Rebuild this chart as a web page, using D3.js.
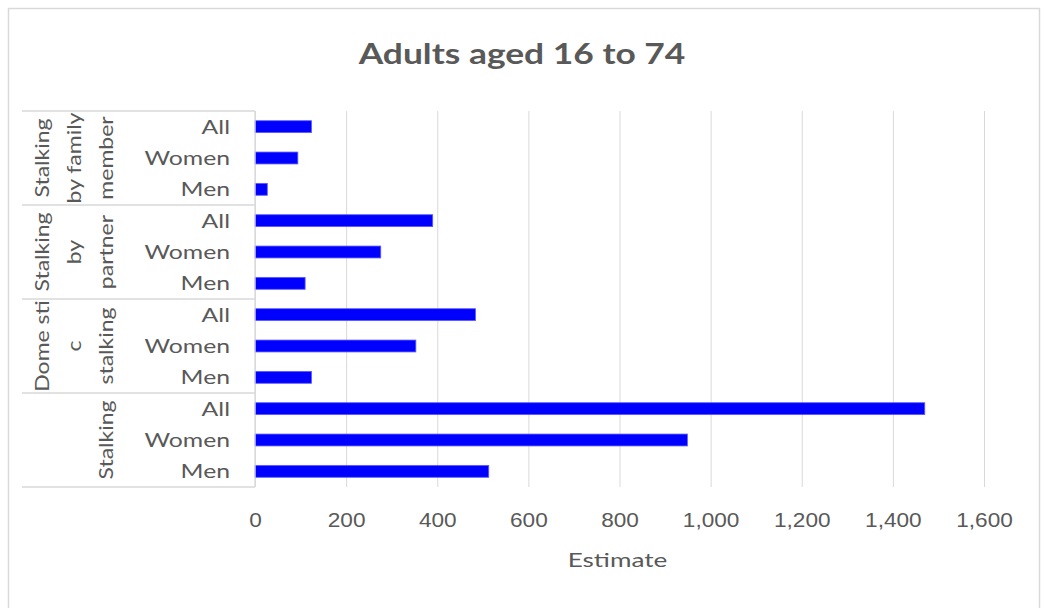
<!DOCTYPE html>
<html>
<head>
<meta charset="utf-8">
<script src="https://cdn.jsdelivr.net/npm/d3@7"></script>
<style>
html,body{margin:0;padding:0;background:#fff;}
svg{display:block;font-family:Lato,"Open Sans",sans-serif;}
</style>
</head>
<body>
<svg id="chart" width="1045" height="608"></svg>
<script>
// ---- data ----
const groups = ["Stalking by family member", "Stalking by partner", "Domestic stalking", "Stalking"];
const groupLines = [["Stalking", "by family", "member"], ["Stalking", "by", "partner"], ["Dome sti", "c", "stalking"], ["Stalking"]];
const subCategories = ["All", "Women", "Men"];
const familyValues = [124, 94, 27];
const partnerValues = [390, 276, 110];
const domesticValues = [484, 353, 124];
const stalkingValues = [1470, 949, 513];
const xTicks = [0, 200, 400, 600, 800, 1000, 1200, 1400, 1600];
const chartTitle = "Adults aged 16 to 74";
const xTitle = "Estimate";

const groupValues = [familyValues, partnerValues, domesticValues, stalkingValues];
const rows = [];
groups.forEach((g, gi) => subCategories.forEach((s, si) => rows.push({group: g, gi, sub: s, key: g + "|" + s, value: groupValues[gi][si]})));

// ---- layout ----
const svg = d3.select("#chart");
const textColor = "#595959";
const gridColor = "#d9d9d9";
const plot = {left: 255, right: 984, top: 111, bottom: 487};
const labelSize = 19.5;

// stretched text helper (text drawn at local origin, scaled along its own direction)
function stretchedText(parent, tx, ty, rot, sx, str, anchor, size, weight) {
  const g = parent.append("g").attr("transform", `translate(${tx},${ty}) rotate(${rot}) scale(${sx},1)`);
  return g.append("text").attr("x", 0).attr("y", 0).attr("text-anchor", anchor)
    .attr("font-size", size).attr("font-weight", weight || "normal").attr("fill", textColor).text(str);
}

svg.append("rect").attr("x", 0).attr("y", 0).attr("width", 1045).attr("height", 608).attr("fill", "#fff");
svg.append("rect").attr("x", 8.5).attr("y", 8.5).attr("width", 1031).attr("height", 640)
  .attr("fill", "none").attr("stroke", gridColor).attr("stroke-width", 1.5);

const x = d3.scaleLinear().domain([0, 1600]).range([plot.left, plot.right]);
const y = d3.scaleBand().domain(rows.map(d => d.key)).range([plot.top, plot.bottom]).paddingInner(0.62).paddingOuter(0.31);
const step = y.step();

// title
stretchedText(svg, 522, 63.5, 0, 1.22, chartTitle, "middle", 29, "bold");

// gridlines
const grid = svg.append("g").attr("transform", `translate(0,${plot.bottom})`)
  .call(d3.axisBottom(x).tickValues(xTicks).tickSize(-(plot.bottom - plot.top)).tickFormat(d3.format(",")));
grid.select(".domain").remove();
grid.selectAll(".tick line").attr("stroke", gridColor).attr("stroke-width", 1);
grid.selectAll(".tick text").remove();
grid.selectAll(".tick").each(function(d) {
  stretchedText(d3.select(this), 0, 527 - plot.bottom, 0, 1.16, d3.format(",")(d), "middle", labelSize);
});

// bars
svg.append("g").selectAll("rect").data(rows).join("rect")
  .attr("x", x(0)).attr("y", d => y(d.key))
  .attr("width", d => x(d.value) - x(0)).attr("height", y.bandwidth())
  .attr("fill", "#0000ff").attr("stroke", "#5c5cff").attr("stroke-width", 0.8);

// category axis: sub labels
const subG = svg.append("g");
rows.forEach(d => {
  stretchedText(subG, 230, y(d.key) + y.bandwidth() / 2 + 7, 0, 1.27, d.sub, "end", labelSize);
});

// group separators
const sepYs = [plot.top].concat(groups.map((g, gi) => {
  const keys = rows.filter(r => r.gi === gi).map(r => r.key);
  return gi === groups.length - 1 ? plot.bottom : y(keys[keys.length - 1]) + y.bandwidth() + step * y.paddingInner() / 2;
}));
svg.append("g").selectAll("line").data(sepYs).join("line")
  .attr("x1", 22).attr("x2", plot.left).attr("y1", d => d).attr("y2", d => d)
  .attr("stroke", gridColor).attr("stroke-width", 1.3);
// axis line
svg.append("line").attr("x1", plot.left).attr("x2", plot.left).attr("y1", plot.top).attr("y2", plot.bottom)
  .attr("stroke", gridColor).attr("stroke-width", 1.3);

// group labels (rotated, wrapped lines, right-aligned columns)
const colX = [42, 74, 106];
const grpG = svg.append("g");
groupLines.forEach((lines, gi) => {
  const cy = (sepYs[gi] + sepYs[gi + 1]) / 2;
  lines.forEach((ln, li) => {
    const cx = colX[colX.length - lines.length + li];
    stretchedText(grpG, cx + 7, cy, -90, 1.18, ln, "middle", labelSize);
  });
});

// x axis title
stretchedText(svg, 617.5, 567, 0, 1.34, xTitle, "middle", labelSize);
</script>
</body>
</html>
